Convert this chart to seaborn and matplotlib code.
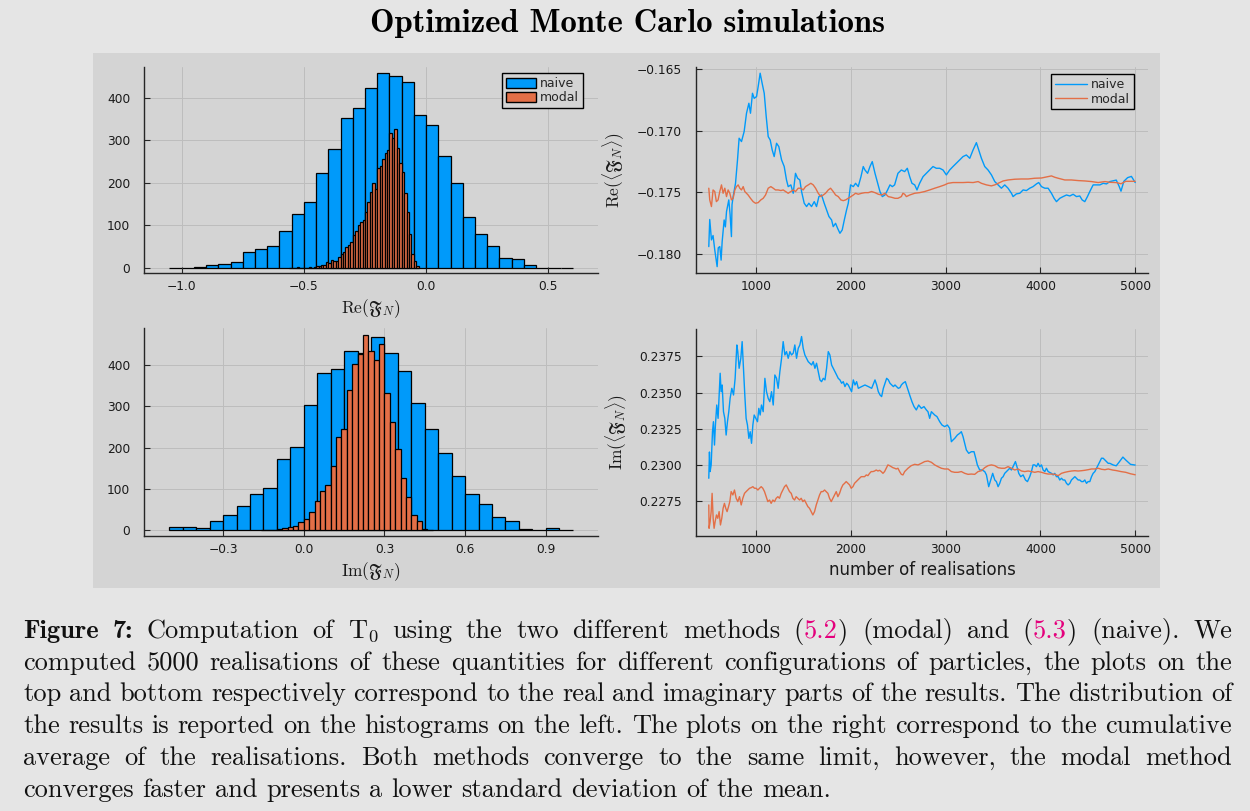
import numpy as np
import matplotlib
matplotlib.use("Agg")
import matplotlib.pyplot as plt
import seaborn as sns
from matplotlib.patches import Rectangle, Patch
from matplotlib.lines import Line2D
from matplotlib.font_manager import FontProperties

# ---------------- data ----------------
re_naive_start, re_naive_width = -1.05, 0.05
re_naive_counts = [0, 1, 3, 6, 10, 14, 38, 44, 52, 86, 128, 155, 222, 280, 353, 375, 422, 459,
                   450, 438, 360, 337, 262, 200, 120, 79, 51, 23, 22, 6, 1, 1, 0]
re_modal_start, re_modal_width = -0.56, 0.01
re_modal_counts = [1, 0, 1, 2, 1, 1, 1, 1, 2, 1, 3, 4, 4, 7, 6, 14, 11, 20, 16, 17, 27, 33, 37, 49,
                   55, 60, 78, 88, 101, 108, 112, 131, 154, 178, 200, 185, 236, 240, 255, 270, 276,
                   318, 305, 326, 283, 246, 226, 177, 132, 81, 33, 17, 5]
im_naive_start, im_naive_width = -0.5, 0.05
im_naive_counts = [7, 7, 6, 21, 36, 58, 87, 103, 173, 201, 304, 380, 391, 435, 428, 469, 430, 385,
                   307, 244, 187, 130, 88, 62, 31, 21, 3, 1, 6, 1]
im_modal_start, im_modal_width = -0.16, 0.02
im_modal_counts = [1, 1, 1, 3, 6, 8, 10, 19, 26, 44, 71, 95, 109, 154, 225, 244, 339, 402, 427,
                   473, 435, 411, 451, 333, 263, 197, 127, 81, 36, 23, 3, 1]

re_naive_avg = [(500, -0.1794), (510, -0.1772), (528, -0.17886), (545, -0.1785), (563, -0.17967),
    (588, -0.18103), (600, -0.1795), (616, -0.17940), (630, -0.1805), (641, -0.17900), (662, -0.17724),
    (675, -0.1778), (687, -0.17656), (711, -0.17561), (725, -0.1768), (739, -0.17859), (745, -0.1760),
    (757, -0.17534), (782, -0.17426), (803, -0.17236), (820, -0.17060), (845, -0.17087), (873, -0.17006),
    (898, -0.16857), (923, -0.16776), (940, -0.16857), (961, -0.16695), (979, -0.16736), (1004, -0.16722),
    (1021, -0.16641), (1042, -0.16532), (1063, -0.16614), (1085, -0.16695), (1106, -0.16884),
    (1127, -0.17047), (1148, -0.17074), (1169, -0.17155), (1190, -0.17209), (1215, -0.17101),
    (1239, -0.17128), (1268, -0.17236), (1296, -0.17290), (1320, -0.17399), (1338, -0.17453),
    (1366, -0.17439), (1391, -0.17507), (1415, -0.17345), (1437, -0.17385), (1461, -0.17399),
    (1479, -0.17493), (1507, -0.17588), (1532, -0.17615), (1556, -0.17588), (1584, -0.17615),
    (1613, -0.17575), (1637, -0.17615), (1662, -0.17534), (1690, -0.17521), (1718, -0.17588),
    (1743, -0.17642), (1768, -0.17696), (1796, -0.17724), (1813, -0.17778), (1838, -0.17751),
    (1859, -0.17791), (1884, -0.17832), (1908, -0.17805), (1930, -0.17724), (1954, -0.17642),
    (1972, -0.17588), (1996, -0.17439), (2025, -0.17453), (2049, -0.17426), (2077, -0.17453),
    (2106, -0.17372), (2130, -0.17290), (2148, -0.17318), (2176, -0.17345), (2201, -0.17290),
    (2225, -0.17250), (2254, -0.17345), (2282, -0.17426), (2306, -0.17493), (2331, -0.17534),
    (2359, -0.17521), (2387, -0.17480), (2412, -0.17439), (2437, -0.17453), (2461, -0.17439),
    (2496, -0.17345), (2532, -0.17318), (2567, -0.17331), (2595, -0.17304), (2620, -0.17372),
    (2644, -0.17426), (2673, -0.17439), (2697, -0.17480), (2725, -0.17426), (2761, -0.17372),
    (2796, -0.17345), (2831, -0.17318), (2866, -0.17290), (2901, -0.17304), (2937, -0.17304),
    (2972, -0.17318), (3007, -0.17358), (3042, -0.17318), (3077, -0.17290), (3113, -0.17263),
    (3148, -0.17236), (3183, -0.17209), (3218, -0.17196), (3254, -0.17223), (3289, -0.17155),
    (3324, -0.17096), (3349, -0.17155), (3377, -0.17223), (3412, -0.17290), (3447, -0.17318),
    (3483, -0.17358), (3518, -0.17412), (3553, -0.17439), (3588, -0.17466), (3623, -0.17439),
    (3658, -0.17466), (3694, -0.17507), (3711, -0.17534), (3746, -0.17512), (3782, -0.17507),
    (3817, -0.17480), (3852, -0.17485), (3887, -0.17466), (3922, -0.17453), (3958, -0.17431),
    (3982, -0.17420), (4011, -0.17453), (4046, -0.17466), (4081, -0.17466), (4116, -0.17507),
    (4144, -0.17548), (4169, -0.17575), (4204, -0.17548), (4239, -0.17534), (4275, -0.17521),
    (4310, -0.17529), (4345, -0.17515), (4380, -0.17534), (4415, -0.17529), (4440, -0.17561),
    (4468, -0.17575), (4496, -0.17534), (4521, -0.17493), (4556, -0.17439), (4591, -0.17439),
    (4627, -0.17439), (4662, -0.17426), (4697, -0.17431), (4732, -0.17412), (4800, -0.1740),
    (4830, -0.1745), (4850, -0.1749), (4880, -0.1741), (4920, -0.1738), (4960, -0.1737), (5000, -0.1742)]

re_modal_avg = [(500, -0.17466), (510, -0.17561), (528, -0.17615), (545, -0.17480), (563, -0.17493),
    (580, -0.17575), (598, -0.17561), (616, -0.17493), (634, -0.17439), (651, -0.17507), (669, -0.17466),
    (687, -0.17534), (704, -0.17480), (722, -0.17507), (739, -0.17561), (757, -0.17548), (775, -0.17480),
    (792, -0.17453), (810, -0.17439), (827, -0.17466), (845, -0.17480), (863, -0.17453), (880, -0.17493),
    (898, -0.17507), (915, -0.17521), (940, -0.17548), (968, -0.17575), (993, -0.17588), (1021, -0.17583),
    (1049, -0.17561), (1074, -0.17548), (1099, -0.17521), (1127, -0.17466), (1155, -0.17453),
    (1180, -0.17466), (1204, -0.17480), (1232, -0.17480), (1261, -0.17485), (1285, -0.17480),
    (1310, -0.17493), (1338, -0.17507), (1366, -0.17493), (1391, -0.17480), (1415, -0.17493),
    (1444, -0.17466), (1472, -0.17466), (1496, -0.17480), (1521, -0.17453), (1549, -0.17439),
    (1577, -0.17426), (1602, -0.17439), (1627, -0.17466), (1655, -0.17507), (1683, -0.17534),
    (1708, -0.17521), (1732, -0.17507), (1761, -0.17480), (1785, -0.17466), (1813, -0.17493),
    (1838, -0.17521), (1866, -0.17534), (1894, -0.17561), (1919, -0.17567), (1944, -0.17561),
    (1972, -0.17548), (2000, -0.17534), (2025, -0.17521), (2049, -0.17507), (2077, -0.17515),
    (2113, -0.17507), (2148, -0.17502), (2183, -0.17502), (2218, -0.17493), (2254, -0.17502),
    (2289, -0.17515), (2324, -0.17521), (2359, -0.17507), (2394, -0.17534), (2430, -0.17540),
    (2465, -0.17548), (2496, -0.17548), (2532, -0.17534), (2549, -0.17507), (2567, -0.17515),
    (2585, -0.17534), (2620, -0.17521), (2673, -0.17507), (2725, -0.17502), (2778, -0.17493),
    (2831, -0.17480), (2884, -0.17466), (2937, -0.17453), (2989, -0.17439), (3025, -0.17426),
    (3077, -0.17420), (3130, -0.17420), (3183, -0.17420), (3236, -0.17418), (3289, -0.17420),
    (3342, -0.17412), (3377, -0.17426), (3430, -0.17439), (3482, -0.17447), (3518, -0.17439),
    (3553, -0.17426), (3606, -0.17407), (3658, -0.17399), (3729, -0.17393), (3799, -0.17391),
    (3870, -0.17391), (3940, -0.17385), (4011, -0.17383), (4081, -0.17372), (4116, -0.17366),
    (4151, -0.17377), (4187, -0.17385), (4257, -0.17399), (4327, -0.17399), (4398, -0.17404),
    (4468, -0.17407), (4539, -0.17412), (4609, -0.17420), (4680, -0.17412), (4732, -0.17418),
    (4800, -0.1742), (4850, -0.1743), (4900, -0.1741), (4950, -0.1741), (5000, -0.1741)]

im_naive_avg = [(500, 0.22909), (507, 0.23090), (514, 0.22955), (525, 0.23001), (539, 0.23230),
    (549, 0.23299), (560, 0.23138), (570, 0.23276), (584, 0.23414), (598, 0.23322), (609, 0.23483),
    (620, 0.23633), (630, 0.23506), (641, 0.23552), (655, 0.23368), (669, 0.23322), (683, 0.23207),
    (697, 0.23299), (711, 0.23368), (725, 0.23460), (743, 0.23529), (761, 0.23483), (778, 0.23598),
    (796, 0.23828), (806, 0.23782), (820, 0.23667), (838, 0.23736), (852, 0.23851), (866, 0.23667),
    (880, 0.23483), (894, 0.23322), (908, 0.23276), (923, 0.23184), (937, 0.23230), (951, 0.23150),
    (965, 0.23276), (979, 0.23345), (1014, 0.23299), (1028, 0.23391), (1042, 0.23345), (1056, 0.23414),
    (1074, 0.23368), (1092, 0.23598), (1109, 0.23506), (1127, 0.23460), (1144, 0.23437), (1162, 0.23506),
    (1180, 0.23414), (1197, 0.23621), (1215, 0.23598), (1232, 0.23529), (1250, 0.23644), (1268, 0.23736),
    (1285, 0.23851), (1303, 0.23759), (1320, 0.23782), (1338, 0.23736), (1356, 0.23782), (1373, 0.23759),
    (1391, 0.23771), (1408, 0.23828), (1426, 0.23736), (1444, 0.23805), (1461, 0.23828), (1479, 0.23886),
    (1496, 0.23805), (1514, 0.23759), (1532, 0.23736), (1549, 0.23713), (1567, 0.23702), (1585, 0.23690),
    (1602, 0.23713), (1620, 0.23667), (1637, 0.23702), (1655, 0.23644), (1673, 0.23587), (1690, 0.23575),
    (1708, 0.23598), (1726, 0.23587), (1743, 0.23667), (1761, 0.23782), (1778, 0.23759), (1796, 0.23690),
    (1814, 0.23667), (1831, 0.23644), (1849, 0.23621), (1866, 0.23598), (1884, 0.23587), (1902, 0.23564),
    (1919, 0.23575), (1937, 0.23541), (1955, 0.23564), (1972, 0.23552), (1990, 0.23529), (2007, 0.23506),
    (2025, 0.23587), (2043, 0.23552), (2060, 0.23575), (2078, 0.23529), (2113, 0.23541), (2148, 0.23552),
    (2184, 0.23541), (2219, 0.23529), (2254, 0.23587), (2272, 0.23552), (2289, 0.23506), (2307, 0.23483),
    (2324, 0.23472), (2342, 0.23529), (2360, 0.23564), (2377, 0.23598), (2395, 0.23587), (2412, 0.23564),
    (2430, 0.23552), (2448, 0.23541), (2465, 0.23552), (2500, 0.23529), (2518, 0.23534), (2532, 0.23552),
    (2549, 0.23564), (2574, 0.23575), (2602, 0.23518), (2620, 0.23483), (2644, 0.23437), (2666, 0.23403),
    (2690, 0.23380), (2715, 0.23414), (2743, 0.23391), (2771, 0.23403), (2796, 0.23380), (2813, 0.23368),
    (2831, 0.23322), (2849, 0.23368), (2866, 0.23357), (2884, 0.23345), (2908, 0.23334), (2937, 0.23299),
    (2961, 0.23276), (2989, 0.23265), (3018, 0.23276), (3042, 0.23253), (3060, 0.23161), (3077, 0.23173),
    (3095, 0.23184), (3123, 0.23207), (3148, 0.23219), (3165, 0.23230), (3183, 0.23196), (3201, 0.23150),
    (3218, 0.23104), (3243, 0.23081), (3271, 0.23092), (3299, 0.23092), (3317, 0.23047), (3334, 0.23001),
    (3359, 0.22966), (3384, 0.22966), (3412, 0.22955), (3430, 0.22932), (3454, 0.22851), (3475, 0.22897),
    (3496, 0.22943), (3518, 0.22897), (3535, 0.22886), (3553, 0.22851), (3570, 0.22874), (3588, 0.22909),
    (3606, 0.22920), (3623, 0.22943), (3641, 0.22955), (3658, 0.22966), (3676, 0.22978), (3694, 0.22966),
    (3711, 0.22989), (3736, 0.23024), (3757, 0.22978), (3771, 0.22943), (3792, 0.22920), (3817, 0.22932),
    (3842, 0.22897), (3863, 0.22886), (3887, 0.22920), (3905, 0.22955), (3922, 0.23001), (3940, 0.23001),
    (3958, 0.22989), (3975, 0.23012), (3993, 0.22989), (4011, 0.23001), (4028, 0.22966), (4046, 0.22955),
    (4063, 0.22978), (4081, 0.22955), (4116, 0.22943), (4134, 0.22932), (4151, 0.22943), (4169, 0.22920),
    (4187, 0.22920), (4204, 0.22897), (4222, 0.22909), (4239, 0.22897), (4257, 0.22897), (4275, 0.22874),
    (4292, 0.22863), (4310, 0.22874), (4327, 0.22897), (4345, 0.22909), (4363, 0.22920), (4380, 0.22909),
    (4398, 0.22897), (4415, 0.22897), (4433, 0.22886), (4451, 0.22886), (4468, 0.22897), (4486, 0.22874),
    (4503, 0.22886), (4521, 0.22886), (4539, 0.22920), (4556, 0.22943), (4574, 0.22955), (4592, 0.22978),
    (4609, 0.23001), (4627, 0.23024), (4644, 0.23047), (4662, 0.23047), (4680, 0.23035), (4697, 0.23024),
    (4715, 0.23012), (4732, 0.23012), (4770, 0.23000), (4800, 0.22995), (4830, 0.23020), (4870, 0.23055),
    (4900, 0.23035), (4950, 0.23005), (5000, 0.23000)]

im_modal_avg = [(500, 0.22725), (503, 0.22564), (514, 0.22610), (525, 0.22679), (535, 0.22805),
    (546, 0.22633), (556, 0.22564), (567, 0.22610), (581, 0.22656), (595, 0.22633), (609, 0.22679),
    (623, 0.22587), (637, 0.22633), (651, 0.22702), (665, 0.22736), (679, 0.22702), (693, 0.22679),
    (708, 0.22713), (722, 0.22748), (736, 0.22817), (754, 0.22794), (771, 0.22828), (789, 0.22771),
    (806, 0.22748), (824, 0.22782), (842, 0.22725), (859, 0.22771), (877, 0.22805), (894, 0.22817),
    (912, 0.22828), (930, 0.22840), (947, 0.22844), (965, 0.22851), (982, 0.22840), (1000, 0.22840),
    (1018, 0.22828), (1035, 0.22840), (1053, 0.22851), (1070, 0.22840), (1088, 0.22817), (1106, 0.22782),
    (1123, 0.22748), (1141, 0.22759), (1158, 0.22736), (1176, 0.22759), (1194, 0.22748), (1211, 0.22771),
    (1229, 0.22782), (1246, 0.22771), (1264, 0.22805), (1282, 0.22828), (1299, 0.22851), (1317, 0.22863),
    (1334, 0.22840), (1352, 0.22817), (1370, 0.22805), (1387, 0.22771), (1405, 0.22759), (1422, 0.22782),
    (1440, 0.22771), (1458, 0.22759), (1475, 0.22771), (1493, 0.22748), (1510, 0.22759), (1528, 0.22736),
    (1546, 0.22713), (1563, 0.22702), (1581, 0.22679), (1598, 0.22656), (1616, 0.22679), (1634, 0.22725),
    (1651, 0.22759), (1669, 0.22794), (1686, 0.22817), (1704, 0.22817), (1722, 0.22828), (1739, 0.22817),
    (1757, 0.22805), (1774, 0.22771), (1792, 0.22748), (1810, 0.22771), (1827, 0.22794), (1845, 0.22817),
    (1862, 0.22782), (1880, 0.22805), (1898, 0.22840), (1915, 0.22863), (1933, 0.22874), (1950, 0.22886),
    (1968, 0.22874), (1986, 0.22863), (2003, 0.22840), (2021, 0.22851), (2038, 0.22874), (2056, 0.22886),
    (2074, 0.22897), (2091, 0.22909), (2109, 0.22920), (2126, 0.22920), (2144, 0.22920), (2162, 0.22932),
    (2179, 0.22927), (2197, 0.22943), (2214, 0.22955), (2232, 0.22955), (2250, 0.22959), (2267, 0.22966),
    (2285, 0.22959), (2302, 0.22964), (2320, 0.22955), (2338, 0.22943), (2355, 0.22955), (2373, 0.22978),
    (2390, 0.23001), (2408, 0.22996), (2426, 0.22989), (2443, 0.22982), (2461, 0.22978), (2478, 0.22973),
    (2496, 0.22978), (2514, 0.22955), (2532, 0.22936), (2549, 0.22932), (2567, 0.22955), (2602, 0.22978),
    (2637, 0.22996), (2673, 0.23005), (2708, 0.23001), (2743, 0.23012), (2778, 0.23024), (2813, 0.23028),
    (2849, 0.23019), (2884, 0.23001), (2919, 0.22989), (2954, 0.22978), (2989, 0.22973), (3025, 0.22973),
    (3060, 0.22955), (3095, 0.22950), (3130, 0.22950), (3165, 0.22955), (3201, 0.22943), (3236, 0.22936),
    (3271, 0.22938), (3306, 0.22936), (3342, 0.22955), (3377, 0.22961), (3412, 0.22982), (3447, 0.22996),
    (3482, 0.23001), (3518, 0.22996), (3553, 0.22982), (3588, 0.22978), (3623, 0.22978), (3658, 0.22989),
    (3694, 0.22978), (3729, 0.22966), (3764, 0.22973), (3799, 0.22959), (3834, 0.22955), (3870, 0.22959),
    (3905, 0.22955), (3940, 0.22950), (3975, 0.22955), (4011, 0.22950), (4046, 0.22943), (4081, 0.22938),
    (4116, 0.22938), (4151, 0.22936), (4187, 0.22927), (4222, 0.22943), (4257, 0.22950), (4292, 0.22955),
    (4327, 0.22959), (4363, 0.22961), (4398, 0.22959), (4433, 0.22961), (4468, 0.22964), (4503, 0.22968),
    (4539, 0.22973), (4574, 0.22973), (4609, 0.22978), (4644, 0.22971), (4680, 0.22968), (4715, 0.22973),
    (4760, 0.22966), (4800, 0.22962), (4850, 0.22955), (4900, 0.22950), (4950, 0.22940), (5000, 0.22933)]

series_labels = ["naive", "modal"]
title_text = "Optimized Monte Carlo simulations"
xlabel_re = r"$\mathrm{Re}(\mathfrak{F}_N)$"
xlabel_im = r"$\mathrm{Im}(\mathfrak{F}_N)$"
ylabel_re_avg = r"$\mathrm{Re}(\langle\mathfrak{F}_N\rangle)$"
ylabel_im_avg = r"$\mathrm{Im}(\langle\mathfrak{F}_N\rangle)$"
xlabel_avg = "number of realisations"

# ---------------- style ----------------
BLUE = "#009AFA"
ORANGE = "#E36F47"
OUTER = "#e5e5e5"
PANEL = "#d4d4d4"
GRID = "#bdbdbd"
AXC = "#262626"

sns.set_style("ticks")
plt.rcParams["font.family"] = ["DejaVu Sans"]
plt.rcParams["mathtext.fontset"] = "cm"

W, H = 1250, 811
fig = plt.figure(figsize=(W / 100, H / 100), dpi=100, facecolor=OUTER)
fig.add_artist(Rectangle((93 / W, 1 - 588 / H), (1160 - 93) / W, (588 - 53) / H,
                         transform=fig.transFigure, facecolor=PANEL, edgecolor="none", zorder=0))


def px_axes(l, t, r, b):
    return fig.add_axes([l / W, 1 - b / H, (r - l) / W, (b - t) / H])


ax_tl = px_axes(144.3, 66.7, 597.7, 273.0)
ax_bl = px_axes(144.3, 328.3, 597.7, 536.0)
ax_tr = px_axes(696.0, 67.3, 1148.0, 273.3)
ax_br = px_axes(696.0, 329.0, 1148.0, 535.7)


def style(ax):
    ax.set_facecolor(PANEL)
    for s in ["top", "right"]:
        ax.spines[s].set_visible(False)
    for s in ["left", "bottom"]:
        ax.spines[s].set_color(AXC)
        ax.spines[s].set_linewidth(1.0)
    ax.grid(True, color=GRID, linewidth=0.7)
    ax.set_axisbelow(True)
    ax.tick_params(direction="in", length=4, width=0.8, colors=AXC, labelsize=8.8,
                   labelcolor="#1a1a1a")
    ax.tick_params(axis="x", pad=5)
    ax.tick_params(axis="y", pad=10)


def fmt(v, nd):
    return f"{v:.{nd}f}".replace("-", "\u2212")


def hist(ax, start, width, counts, color):
    counts = list(map(float, counts))
    n = len(counts)
    centers = [start + width * (i + 0.5) for i in range(n)]
    sns.histplot(x=centers, weights=counts, binwidth=width,
                 binrange=(start, start + width * n), color=color, alpha=1.0,
                 edgecolor="black", linewidth=0.9, ax=ax)


# ---------- histograms ----------
for ax in (ax_tl, ax_bl):
    style(ax)

hist(ax_tl, re_naive_start, re_naive_width, re_naive_counts, BLUE)
hist(ax_tl, re_modal_start, re_modal_width, re_modal_counts, ORANGE)
ax_tl.set_xlim(-1.153, 0.702)
ax_tl.set_ylim(-11.7, 472.8)
ax_tl.set_xticks([-1.0, -0.5, 0.0, 0.5])
ax_tl.set_xticklabels([fmt(v, 1) for v in [-1.0, -0.5, 0.0, 0.5]])
ax_tl.set_yticks([0, 100, 200, 300, 400])
ax_tl.set_yticklabels(["0", "100", "200", "300", "400"])
ax_tl.set_ylabel("")
ax_tl.set_xlabel(xlabel_re, fontsize=12.5, labelpad=3, color="#1a1a1a")

hist(ax_bl, im_naive_start, im_naive_width, im_naive_counts, BLUE)
hist(ax_bl, im_modal_start, im_modal_width, im_modal_counts, ORANGE)
ax_bl.set_xlim(-0.593, 1.093)
ax_bl.set_ylim(-14.5, 489)
ax_bl.set_xticks([-0.3, 0.0, 0.3, 0.6, 0.9])
ax_bl.set_xticklabels([fmt(v, 1) for v in [-0.3, 0.0, 0.3, 0.6, 0.9]])
ax_bl.set_yticks([0, 100, 200, 300, 400])
ax_bl.set_yticklabels(["0", "100", "200", "300", "400"])
ax_bl.set_ylabel("")
ax_bl.set_xlabel(xlabel_im, fontsize=12.5, labelpad=3, color="#1a1a1a")

hist_handles = [Patch(facecolor=BLUE, edgecolor="black", linewidth=1.0),
                Patch(facecolor=ORANGE, edgecolor="black", linewidth=1.0)]
leg = ax_tl.legend(hist_handles, series_labels, loc="upper right",
                   bbox_to_anchor=(1 - 15 / 453.4, 1 - 6.5 / 206.3), borderaxespad=0,
                   frameon=True, fancybox=False, edgecolor="black", facecolor=PANEL,
                   framealpha=1, fontsize=9, handlelength=2.4, handleheight=0.85,
                   borderpad=0.3, labelspacing=0.12, handletextpad=0.3)
leg.get_frame().set_linewidth(1.0)

# ---------- cumulative averages ----------
for ax in (ax_tr, ax_br):
    style(ax)


def line(ax, pairs, color):
    n = [p[0] for p in pairs]
    v = [p[1] for p in pairs]
    sns.lineplot(x=n, y=v, color=color, linewidth=1.0, ax=ax, legend=False,
                 estimator=None, sort=False)


line(ax_tr, re_naive_avg, BLUE)
line(ax_tr, re_modal_avg, ORANGE)
ax_tr.set_xlim(365, 5135)
ax_tr.set_ylim(-0.18157, -0.16484)
ax_tr.set_xticks([1000, 2000, 3000, 4000, 5000])
ax_tr.set_xticklabels(["1000", "2000", "3000", "4000", "5000"])
yt = [-0.180, -0.175, -0.170, -0.165]
ax_tr.set_yticks(yt)
ax_tr.set_yticklabels([fmt(v, 3) for v in yt])
ax_tr.set_ylabel(ylabel_re_avg, fontsize=12.5, labelpad=7, color="#1a1a1a")

line(ax_br, im_naive_avg, BLUE)
line(ax_br, im_modal_avg, ORANGE)
ax_br.set_xlim(365, 5135)
ax_br.set_ylim(0.22513, 0.23938)
ax_br.set_xticks([1000, 2000, 3000, 4000, 5000])
ax_br.set_xticklabels(["1000", "2000", "3000", "4000", "5000"])
yt2 = [0.2275, 0.2300, 0.2325, 0.2350, 0.2375]
ax_br.set_yticks(yt2)
ax_br.set_yticklabels([fmt(v, 4) for v in yt2])
ax_br.set_ylabel(ylabel_im_avg, fontsize=12.5, labelpad=7, color="#1a1a1a")
ax_br.set_xlabel(xlabel_avg, fontsize=12, labelpad=4, color="#1a1a1a")

line_handles = [Line2D([], [], color=BLUE, lw=1.0), Line2D([], [], color=ORANGE, lw=1.0)]
leg2 = ax_tr.legend(line_handles, series_labels, loc="upper right",
                    bbox_to_anchor=(1 - 14 / 452, 1 - 7 / 206), borderaxespad=0,
                    frameon=True, fancybox=False, edgecolor="black", facecolor=PANEL,
                    framealpha=1, fontsize=9, handlelength=2.6, borderpad=0.3,
                    labelspacing=0.12, handletextpad=0.3)
leg2.get_frame().set_linewidth(1.0)

# ---------- title ----------
fig.text(627 / W, 1 - 23 / H, title_text, ha="center", va="center",
         fontproperties=FontProperties(family="cmb10", size=23.5), color="black")

# ---------- caption (justified) ----------
MAG = "#e4007c"
caption_lines = [
    [[("Figure", "b")], [("7:", "b")], [("Computation", "r")], [("of", "r")],
     [(r"$\mathrm{T}_0$", "r")], [("using", "r")], [("the", "r")], [("two", "r")],
     [("different", "r")], [("methods", "r")], [("(", "r"), ("5.2", "m"), (")", "r")],
     [("(modal)", "r")], [("and", "r")], [("(", "r"), ("5.3", "m"), (")", "r")],
     [("(naive).", "r")], [("We", "r")]],
    "computed 5000 realisations of these quantities for different configurations of particles, the plots on the",
    "top and bottom respectively correspond to the real and imaginary parts of the results. The distribution of",
    "the results is reported on the histograms on the left. The plots on the right correspond to the cumulative",
    "average of the realisations.  Both methods converge to the same limit, however, the modal method",
    "converges faster and presents a lower standard deviation of the mean.",
]
cap_fs = 19.0
fp = {"r": FontProperties(family="cmr10", size=cap_fs),
      "m": FontProperties(family="cmr10", size=cap_fs),
      "b": FontProperties(family="cmb10", size=cap_fs)}
col = {"r": "#111111", "b": "#111111", "m": MAG}
renderer = fig.canvas.get_renderer()


def measure(s, st):
    t = fig.text(0, 0, s, fontproperties=fp[st])
    w = t.get_window_extent(renderer).width
    t.remove()
    return w


space_w = measure("a a", "r") - measure("aa", "r")
x_left, x_right = 23.0, 1232.0
baselines = [638, 670, 701, 733, 765, 797]
for i, ln in enumerate(caption_lines):
    if isinstance(ln, str):
        words = [[(w, "r")] for w in ln.split()]
    else:
        words = ln
    widths = [sum(measure(t, st) for t, st in w) for w in words]
    last = i == len(caption_lines) - 1
    if last:
        gap = space_w
    else:
        gap = (x_right - x_left - sum(widths)) / (len(words) - 1)
    x = x_left
    for w, ww in zip(words, widths):
        xx = x
        for t, st in w:
            fig.text(xx / W, 1 - baselines[i] / H, t, fontproperties=fp[st], color=col[st],
                     ha="left", va="baseline")
            xx += measure(t, st)
        x += ww + gap

fig.savefig("out.png", dpi=100, facecolor=OUTER)
